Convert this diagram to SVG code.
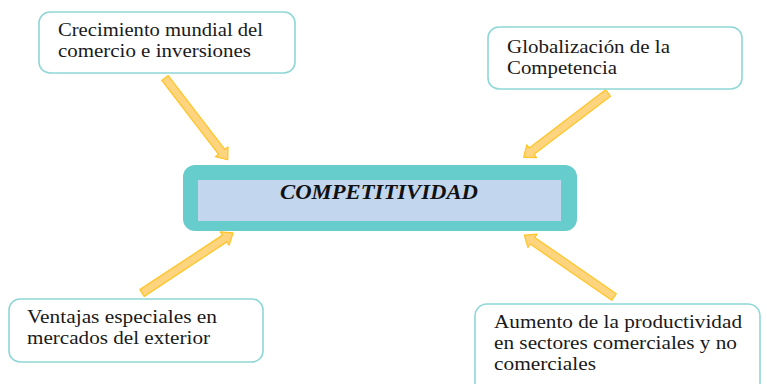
<svg xmlns="http://www.w3.org/2000/svg" width="767" height="384" viewBox="0 0 767 384">
<style>
.box{fill:#ffffff;stroke:#8fd6d6;stroke-width:1.6}
.t{font-size:19px;fill:#1a1a1a}
.ct{font-size:20px;font-weight:bold;font-style:italic;fill:#111}
.arr{fill:#ffd47f;stroke:#ffc629;stroke-width:1.3;stroke-linejoin:round}
</style>
<rect width="767" height="384" fill="#ffffff"/>
<g id="connectors">
<path class="arr" transform="translate(165,78) rotate(52.5)" d="M0,-4 H93 V-8 L103,0 L93,8 V4 H0 Z"/>
<path class="arr" transform="translate(608,93) rotate(142.7)" d="M0,-4 H96 V-8 L106,0 L96,8 V4 H0 Z"/>
<path class="arr" transform="translate(142,293) rotate(-33.4)" d="M0,-4 H99 V-8 L109,0 L99,8 V4 H0 Z"/>
<path class="arr" transform="translate(614,297) rotate(-145.4)" d="M0,-4 H99 V-8 L109,0 L99,8 V4 H0 Z"/>
</g>
<g font-family="Liberation Serif, DejaVu Serif, serif">
<g id="node-crecimiento">
<rect class="box" x="39" y="12" width="256" height="61" rx="11"/>
<text class="t" x="58" y="36" textLength="205" lengthAdjust="spacingAndGlyphs">Crecimiento mundial del</text>
<text class="t" x="58" y="57" textLength="193" lengthAdjust="spacingAndGlyphs">comercio e inversiones</text>
</g>
<g id="node-globalizacion">
<rect class="box" x="488" y="27" width="254" height="62" rx="11"/>
<text class="t" x="507" y="53" textLength="163" lengthAdjust="spacingAndGlyphs">Globalización de la</text>
<text class="t" x="507" y="74" textLength="110" lengthAdjust="spacingAndGlyphs">Competencia</text>
</g>
<g id="node-competitividad">
<rect x="183" y="165" width="394" height="66" rx="12" fill="#66cccc"/>
<rect x="198" y="180" width="363" height="41" fill="#c2d7ee"/>
<text class="ct" x="280" y="199" textLength="198" lengthAdjust="spacingAndGlyphs">COMPETITIVIDAD</text>
</g>
<g id="node-ventajas">
<rect class="box" x="9" y="299" width="254" height="63" rx="11"/>
<text class="t" x="27" y="323" textLength="190" lengthAdjust="spacingAndGlyphs">Ventajas especiales en</text>
<text class="t" x="27" y="344" textLength="183" lengthAdjust="spacingAndGlyphs">mercados del exterior</text>
</g>
<g id="node-aumento">
<rect class="box" x="475" y="304" width="285" height="95" rx="12"/>
<text class="t" x="494" y="328" textLength="248" lengthAdjust="spacingAndGlyphs">Aumento de la productividad</text>
<text class="t" x="494" y="349" textLength="243" lengthAdjust="spacingAndGlyphs">en sectores comerciales y no</text>
<text class="t" x="494" y="370" textLength="102" lengthAdjust="spacingAndGlyphs">comerciales</text>
</g>
</g>
</svg>
